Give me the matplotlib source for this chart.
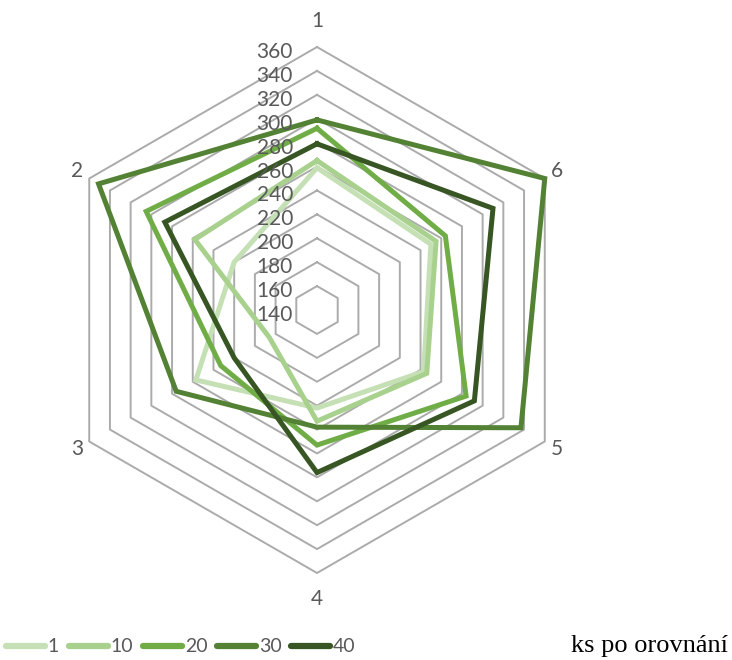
import numpy as np
import matplotlib
matplotlib.use("Agg")
import matplotlib.pyplot as plt
from matplotlib.lines import Line2D

categories = ["1", "2", "3", "4", "5", "6"]
series_names = ["1", "10", "20", "30", "40"]
s1 = [259, 220, 257, 222, 243, 250]
s10 = [265, 258, 186, 233, 246, 255]
s20 = [292, 305, 233, 253, 284, 264]
s30 = [299, 351, 276, 238, 337, 360]
s40 = [279, 287, 220, 276, 292, 310]
series_values = [s1, s10, s20, s30, s40]
colors = ["#C5E0B4", "#A9D18E", "#70AD47", "#548235", "#375623"]
r_ticks = [140, 160, 180, 200, 220, 240, 260, 280, 300, 320, 340, 360]
title_text = "ks po orovnání"

plt.rcParams["font.family"] = ["Lato", "DejaVu Sans"]

W, H = 732, 660
fig = plt.figure(figsize=(W / 100, H / 100), dpi=100)
cx, cy, R = 317, 310, 263
ax = fig.add_axes([(cx - R) / W, (H - cy - R) / H, 2 * R / W, 2 * R / H], projection="polar")
ax.set_theta_offset(np.pi / 2)
ax.set_theta_direction(1)
ax.set_ylim(r_ticks[0], r_ticks[-1])
ax.grid(False)
ax.spines["polar"].set_visible(False)
ax.set_xticks([])
ax.set_yticks([])
ax.patch.set_alpha(0)

n = len(categories)
angles = np.arange(n) * 2 * np.pi / n
closed = np.append(angles, angles[0])

# hexagonal grid
for v in r_ticks[1:]:
    ax.plot(closed, [v] * (n + 1), color="#ABABAB", lw=1.4, zorder=1, clip_on=False)

# series
for vals, c, name in zip(series_values, colors, series_names):
    ax.plot(closed, list(vals) + [vals[0]], color=c, lw=3.6, zorder=3,
            solid_joinstyle="miter", clip_on=False, label=name)

# radial tick labels
for v in r_ticks:
    ax.annotate(str(v), xy=(0, v), xytext=(-24, -5), textcoords="offset pixels",
                ha="right", va="center", fontsize=15, color="#595959", zorder=5,
                annotation_clip=False)

# category labels
for a, lab in zip(angles, categories):
    vertical = abs(np.sin(a)) < 0.01
    rr = 382 if vertical else 372
    ax.text(a, rr, lab, ha="center", va="center", fontsize=15, color="#595959",
            clip_on=False)

handles = [Line2D([0], [0], color=c, lw=4.5, solid_capstyle="round") for c in colors]
fig.legend(handles, series_names, loc="center left", bbox_to_anchor=(6 / W, 13 / H),
           ncol=5, frameon=False, fontsize=14, handlelength=2.0, handletextpad=0.15,
           columnspacing=0.5, borderaxespad=0.0, borderpad=0.0, labelcolor="#595959")

fig.text(0.994, 0.021, title_text, ha="right", va="center", fontsize=19,
         family="Liberation Serif", color="black")

fig.savefig("out.png", dpi=100)
